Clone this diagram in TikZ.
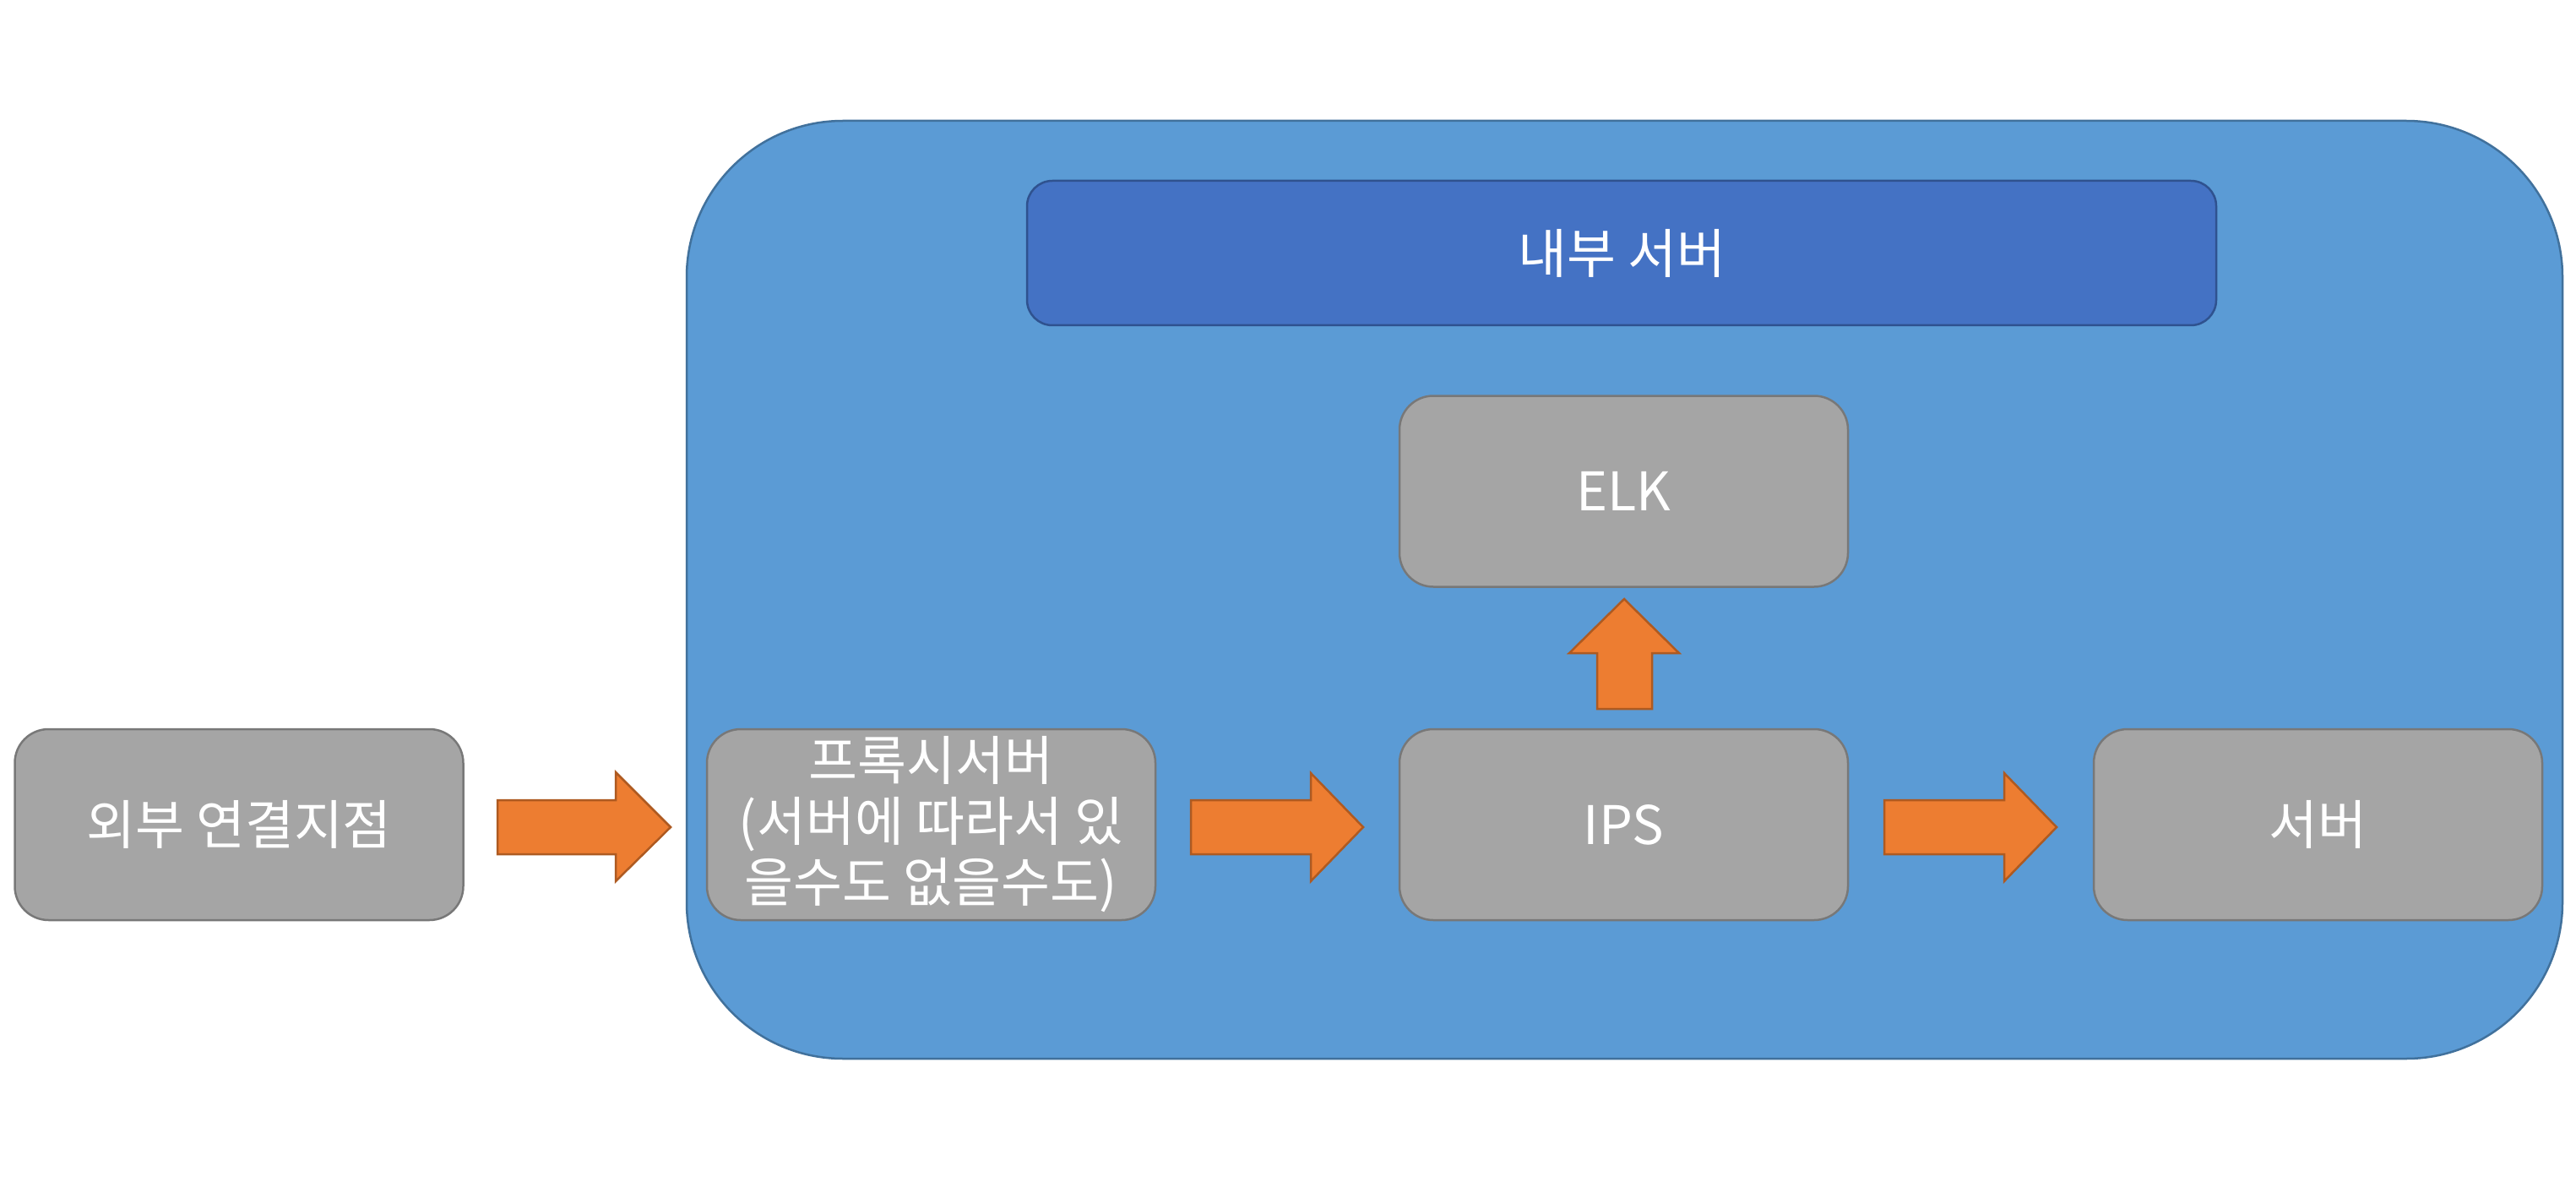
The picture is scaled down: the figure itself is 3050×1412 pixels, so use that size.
\documentclass[tikz,border=0pt]{standalone}
\usepackage{fontspec}
\setmainfont{Noto Sans CJK KR}
\definecolor{contfill}{HTML}{5B9BD5}
\definecolor{contline}{HTML}{41719C}
\definecolor{darkfill}{HTML}{4472C4}
\definecolor{darkline}{HTML}{2F528F}
\definecolor{grayfill}{HTML}{A5A5A5}
\definecolor{grayline}{HTML}{787878}
\definecolor{arrfill}{HTML}{ED7D31}
\definecolor{arrline}{HTML}{AE5A21}
\tikzset{
  graybox/.style={draw=grayline, fill=grayfill, line width=2.5pt, rounded corners=40pt,
    minimum width=531pt, minimum height=226pt, text=white, align=center,
    font=\fontsize{63}{72}\selectfont, inner sep=0pt},
  blockarrow/.style={draw=arrline, fill=arrfill, line width=2.5pt, line join=miter},
}
\begin{document}
\begin{tikzpicture}[x=1pt,y=-1pt]
\useasboundingbox (0,0) rectangle (3050,1412);
\fill[white] (0,0) rectangle (3050,1412);
% container
\draw[draw=contline, fill=contfill, line width=2.5pt, rounded corners=185pt]
  (813,143) rectangle (3034,1253);
% inner server header
\node[draw=darkline, fill=darkfill, line width=2.5pt, rounded corners=30pt,
  minimum width=1408pt, minimum height=171pt, text=white,
  font=\fontsize{63}{72}\selectfont, inner sep=0pt] (inner) at (1920,299.5) {내부 서버};
\node[graybox] (elk) at (1922.5,581.5) {ELK};
\node[graybox] (ext) at (283,976) {외부 연결지점};
\node[graybox] (proxy) at (1102.5,976) {프록시서버\\(서버에 따라서 있\\을수도 없을수도)};
\node[graybox] (ips) at (1922.5,976) {IPS};
\node[graybox] (srv) at (2744.5,976) {서버};
% block arrows
\draw[blockarrow] (589,947) -- (729,947) -- (729,914) -- (794,979) -- (729,1043) -- (729,1011) -- (589,1011) -- cycle;
\draw[blockarrow] (1410,947) -- (1552,947) -- (1552,915) -- (1614,979) -- (1552,1043) -- (1552,1011) -- (1410,1011) -- cycle;
\draw[blockarrow] (2231,947) -- (2373,947) -- (2373,915) -- (2435,979) -- (2373,1043) -- (2373,1011) -- (2231,1011) -- cycle;
\draw[blockarrow] (1891,839) -- (1891,773) -- (1858,773) -- (1923,709) -- (1988,773) -- (1956,773) -- (1956,839) -- cycle;
\end{tikzpicture}
\end{document}
